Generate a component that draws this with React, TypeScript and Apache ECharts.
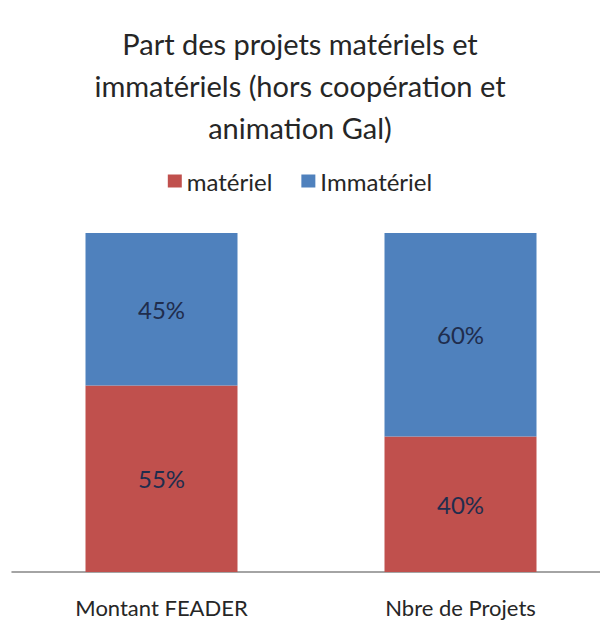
import React, { useEffect, useRef } from "react";
import * as echarts from "echarts";

const categories = ["Montant FEADER", "Nbre de Projets"];
const materiel = [55, 40];
const immateriel = [45, 60];
const titleText = "Part des projets matériels et\nimmatériels (hors coopération et\nanimation Gal)";

export default function App() {
  const ref = useRef<HTMLDivElement>(null);
  useEffect(() => {
    const chart = echarts.init(ref.current!, null, { renderer: "svg" });
    const font = "Lato, 'Open Sans', sans-serif";
    const lbl = { show: true, position: "inside", formatter: "{c}%", fontFamily: font, fontSize: 24, color: "#1f2d4d" };
    chart.setOption({
      animation: false,
      backgroundColor: "#ffffff",
      title: {
        text: titleText,
        left: "center",
        top: 17,
        textStyle: { fontFamily: font, fontSize: 29, fontWeight: "normal", color: "#262626", lineHeight: 42 },
      },
      legend: {
        top: 164,
        left: "center",
        itemWidth: 14,
        itemHeight: 13,
        itemGap: 29,
        icon: "rect",
        textStyle: { fontFamily: font, fontSize: 24, color: "#262626" },
        data: ["matériel", "Immatériel"],
      },
      grid: { left: 12, width: 598, top: 233, bottom: 48, containLabel: false, outerBoundsMode: "none" },
      xAxis: {
        type: "category",
        data: categories,
        axisLine: { lineStyle: { color: "#868686", width: 1.5 } },
        axisTick: { show: false },
        axisLabel: { fontFamily: font, fontSize: 22, color: "#262626", margin: 24 },
      },
      yAxis: { type: "value", min: 0, max: 100, show: false, splitLine: { show: false } },
      series: [
        {
          name: "matériel",
          type: "bar",
          stack: "total",
          data: materiel,
          barWidth: 152,
          itemStyle: { color: "#C0504D" },
          label: lbl,
        },
        {
          name: "Immatériel",
          type: "bar",
          stack: "total",
          data: immateriel,
          barWidth: 152,
          itemStyle: { color: "#4F81BD" },
          label: lbl,
        },
      ],
    });
    return () => chart.dispose();
  }, []);
  return <div ref={ref} style={{ width: 600, height: 620, position: "absolute", left: 0, top: 0 }} />;
}
